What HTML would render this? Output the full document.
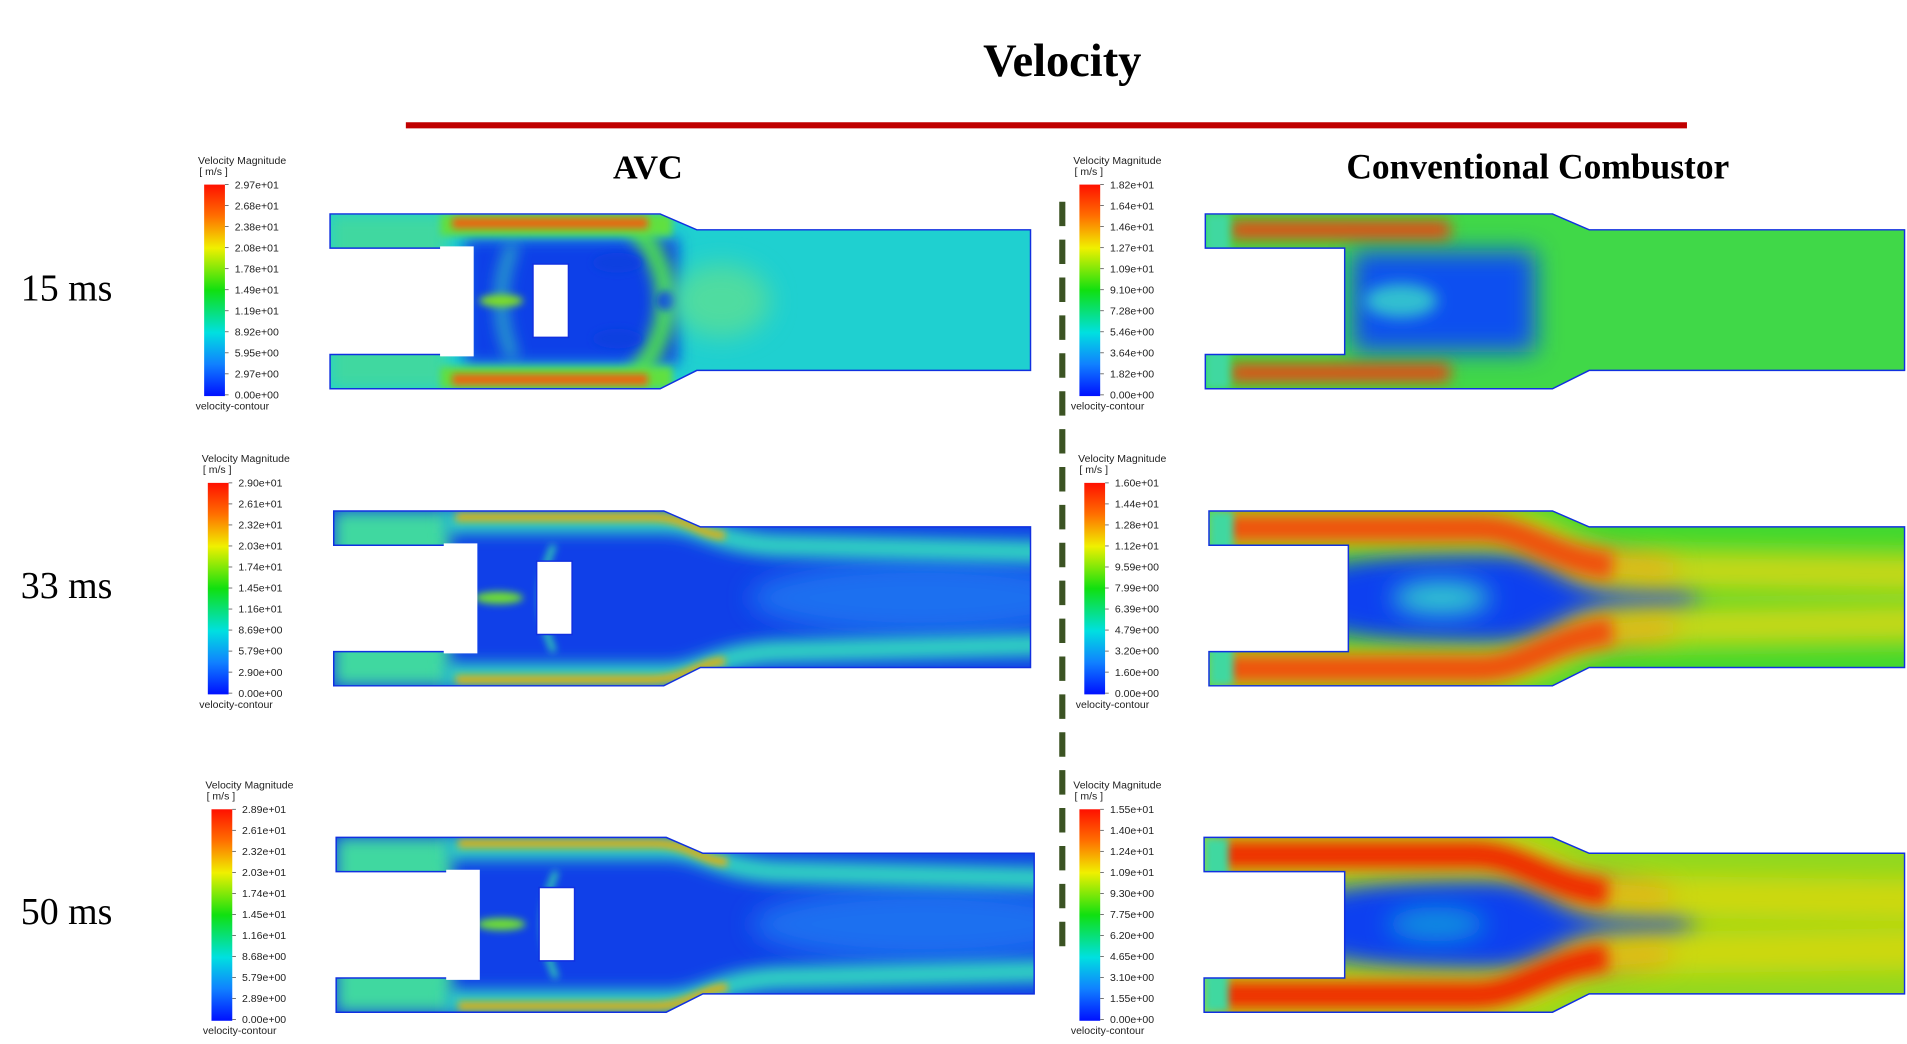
<!DOCTYPE html>
<html><head><meta charset="utf-8">
<style>
html,body{margin:0;padding:0;background:#fff;}
svg{display:block;}
.cb{font-family:"Liberation Sans",sans-serif;font-size:8.6px;fill:#222;}
.ser{font-family:"Liberation Serif",serif;}
</style></head>
<body>
<svg id="s" width="1907" height="1044" viewBox="0 0 1560 854" preserveAspectRatio="none" xmlns="http://www.w3.org/2000/svg">
<defs>
<linearGradient id="jet" x1="0" y1="0" x2="0" y2="1">
<stop offset="0" stop-color="#ff1000"/>
<stop offset="0.15" stop-color="#ff7000"/>
<stop offset="0.3" stop-color="#f0f000"/>
<stop offset="0.5" stop-color="#10e010"/>
<stop offset="0.7" stop-color="#00e0e0"/>
<stop offset="0.85" stop-color="#1080ff"/>
<stop offset="1" stop-color="#0010ff"/>
</linearGradient>
<filter id="b6" filterUnits="userSpaceOnUse" x="-100" y="-100" width="800" height="350"><feGaussianBlur stdDeviation="6"/></filter>
<filter id="b3" filterUnits="userSpaceOnUse" x="-100" y="-100" width="800" height="350"><feGaussianBlur stdDeviation="3"/></filter>
<filter id="b10" filterUnits="userSpaceOnUse" x="-100" y="-100" width="800" height="350"><feGaussianBlur stdDeviation="10"/></filter>
</defs>
<text x="869" y="62" text-anchor="middle" class="ser" font-weight="bold" font-size="38">Velocity</text>
<rect x="332" y="100" width="1048" height="5" fill="#c00000"/>
<text x="530" y="146" text-anchor="middle" class="ser" font-weight="bold" font-size="28">AVC</text>
<text x="1258" y="146" text-anchor="middle" class="ser" font-weight="bold" font-size="29">Conventional Combustor</text>
<text x="17" y="246" class="ser" font-size="31">15 ms</text>
<text x="17" y="489" class="ser" font-size="31">33 ms</text>
<text x="17" y="756" class="ser" font-size="31">50 ms</text>
<line x1="869" y1="165" x2="869" y2="775" stroke="#3b5323" stroke-width="5" stroke-dasharray="20,11"/>
<g id="g"></g>
</svg>
<script>
var g=document.getElementById('g');var H='';var id=0;
function cb(x,y,vals){
 var s='<text class="cb" x="'+(x-5)+'" y="'+(y-17)+'">Velocity Magnitude</text><text class="cb" x="'+(x-4)+'" y="'+(y-8)+'">[ m/s ]</text>';
 s+='<rect x="'+x+'" y="'+y+'" width="17" height="173" fill="url(#jet)"/>';
 for(var i=0;i<11;i++){var yy=y+i*17.2;s+='<line x1="'+(x+17)+'" x2="'+(x+20)+'" y1="'+yy+'" y2="'+yy+'" stroke="#444" stroke-width="0.6"/><text class="cb" x="'+(x+25)+'" y="'+(yy+3)+'">'+vals[i]+'</text>';}
 s+='<text class="cb" x="'+(x-7)+'" y="'+(y+184)+'">velocity-contour</text>';return s;}
H+=cb(167,151,['2.97e+01','2.68e+01','2.38e+01','2.08e+01','1.78e+01','1.49e+01','1.19e+01','8.92e+00','5.95e+00','2.97e+00','0.00e+00']);
H+=cb(170,395,['2.90e+01','2.61e+01','2.32e+01','2.03e+01','1.74e+01','1.45e+01','1.16e+01','8.69e+00','5.79e+00','2.90e+00','0.00e+00']);
H+=cb(173,662,['2.89e+01','2.61e+01','2.32e+01','2.03e+01','1.74e+01','1.45e+01','1.16e+01','8.68e+00','5.79e+00','2.89e+00','0.00e+00']);
H+=cb(883,151,['1.82e+01','1.64e+01','1.46e+01','1.27e+01','1.09e+01','9.10e+00','7.28e+00','5.46e+00','3.64e+00','1.82e+00','0.00e+00']);
H+=cb(887,395,['1.60e+01','1.44e+01','1.28e+01','1.12e+01','9.59e+00','7.99e+00','6.39e+00','4.79e+00','3.20e+00','1.60e+00','0.00e+00']);
H+=cb(883,662,['1.55e+01','1.40e+01','1.24e+01','1.09e+01','9.30e+00','7.75e+00','6.20e+00','4.65e+00','3.10e+00','1.55e+00','0.00e+00']);
function dom(x0,y0,w,cutx,tx,body,avc){
 id++;var p='M0,0 L'+tx+',0 L'+(tx+30)+',13 L'+w+',13 L'+w+',128 L'+(tx+30)+',128 L'+tx+',143 L0,143 L0,115 L'+cutx+',115 L'+cutx+',28 L0,28 Z';
 if(avc)p+=' M166,41 L166,101 L195,101 L195,41 Z';
 var s='<g transform="translate('+x0+','+y0+')"><clipPath id="c'+id+'"><path fill-rule="evenodd" d="'+p+'"/></clipPath><g clip-path="url(#c'+id+')">'+body+'</g>';
 s+='<path d="'+p+'" fill="none" stroke="#1030e0" stroke-width="1.2" fill-rule="evenodd"/>';
 if(avc)s+='<path d="M90,28 L116,28 L116,115 L90,115" fill="none" stroke="#fff" stroke-width="3"/>';
 return s+'</g>';}
var avc15='<rect x="-10" y="-10" width="600" height="170" fill="#1fd0d0"/>'+
'<rect x="0" y="0" width="95" height="143" fill="#40d8a0" filter="url(#b6)"/>'+
'<rect x="110" y="20" width="175" height="103" fill="#1040e8" filter="url(#b6)"/>'+
'<path d="M250,10 Q300,71 250,133" stroke="#50e050" stroke-width="16" fill="none" filter="url(#b6)"/>'+
'<path d="M150,25 Q130,71 150,118" stroke="#30c0c0" stroke-width="8" fill="none" filter="url(#b6)"/>'+
'<rect x="90" y="0" width="190" height="18" fill="#60e040" filter="url(#b3)"/>'+
'<rect x="90" y="125" width="190" height="18" fill="#60e040" filter="url(#b3)"/>'+
'<rect x="100" y="3" width="160" height="9" fill="#f06010" filter="url(#b3)"/>'+
'<rect x="100" y="131" width="160" height="9" fill="#f06010" filter="url(#b3)"/>'+
'<ellipse cx="140" cy="71" rx="18" ry="5" fill="#80e020" filter="url(#b3)"/>'+
'<circle cx="275" cy="71" r="8" fill="#1040e0" filter="url(#b3)"/>'+
'<ellipse cx="235" cy="40" rx="20" ry="8" fill="#1040e0" filter="url(#b3)"/><ellipse cx="235" cy="102" rx="20" ry="8" fill="#1040e0" filter="url(#b3)"/>'+
'<ellipse cx="320" cy="71" rx="40" ry="30" fill="#50dca0" filter="url(#b10)"/>';
var avcL='<rect x="-10" y="-10" width="600" height="170" fill="#1040e8"/>'+
'<rect x="0" y="0" width="95" height="143" fill="#40d8a0" filter="url(#b6)"/>'+
'<ellipse cx="480" cy="71" rx="140" ry="30" fill="#1a70f0" filter="url(#b10)"/>'+
'<path d="M90,9 L270,9 C300,9 310,25 360,28 L600,34" stroke="#30d8c0" stroke-width="18" fill="none" filter="url(#b6)"/>'+
'<path d="M90,134 L270,134 C300,134 310,118 360,115 L600,109" stroke="#30d8c0" stroke-width="18" fill="none" filter="url(#b6)"/>'+
'<path d="M100,5 L260,5 C290,5 300,20 320,20" stroke="#e0b010" stroke-width="7" fill="none" filter="url(#b3)"/>'+
'<path d="M100,138 L260,138 C290,138 300,123 320,123" stroke="#e0b010" stroke-width="7" fill="none" filter="url(#b3)"/>'+
'<path d="M180,28 Q160,71 180,115" stroke="#30d0b0" stroke-width="5" fill="none" filter="url(#b3)"/>'+
'<ellipse cx="135" cy="71" rx="20" ry="5" fill="#70e030" filter="url(#b3)"/>';
function conv(jet,outc,corc,band){return '<rect x="-10" y="-10" width="600" height="170" fill="'+outc+'"/>'+
'<ellipse cx="230" cy="71" rx="170" ry="42" fill="#1040f0" filter="url(#b10)"/>'+
'<ellipse cx="190" cy="71" rx="40" ry="14" fill="'+corc+'" filter="url(#b10)"/>'+
'<path d="M0,14 L230,14 C280,14 290,45 340,48 L600,52" stroke="'+band+'" stroke-width="34" fill="none" filter="url(#b10)"/>'+
'<path d="M0,129 L230,129 C280,129 290,98 340,95 L600,91" stroke="'+band+'" stroke-width="34" fill="none" filter="url(#b10)"/>'+
'<path d="M300,42 L380,48" stroke="#e8b010" stroke-width="16" fill="none" filter="url(#b10)"/>'+
'<path d="M300,101 L380,95" stroke="#e8b010" stroke-width="16" fill="none" filter="url(#b10)"/>'+
'<path d="M10,14 L220,14 C260,14 280,40 330,45" stroke="'+jet+'" stroke-width="22" fill="none" filter="url(#b6)"/>'+
'<path d="M10,129 L220,129 C260,129 280,103 330,98" stroke="'+jet+'" stroke-width="22" fill="none" filter="url(#b6)"/>'+
'<rect x="0" y="0" width="20" height="143" fill="#40d8a0" filter="url(#b3)"/>';}
var conv15='<rect x="-10" y="-10" width="600" height="170" fill="#40d848"/>'+
'<rect x="120" y="30" width="150" height="83" fill="#1050f0" filter="url(#b10)"/>'+
'<ellipse cx="160" cy="71" rx="30" ry="14" fill="#30c0d0" filter="url(#b6)"/>'+
'<rect x="20" y="6" width="180" height="14" fill="#f04010" filter="url(#b6)"/>'+
'<rect x="20" y="123" width="180" height="14" fill="#f04010" filter="url(#b6)"/>'+
'<rect x="0" y="0" width="20" height="143" fill="#40d8a0" filter="url(#b3)"/>';
H+=dom(270,175,573,116,270,avc15,true);
H+=dom(273,418,570,116,270,avcL,true);
H+=dom(275,685,571,116,270,avcL,true);
H+=dom(986,175,572,114,284,conv15,false);
H+=dom(989,418,569,114,281,conv('#f05010','#40d830','#30c8d0','#c8d818'),false);
H+=dom(985,685,573,115,285,conv('#f02a00','#90d820','#1090e0','#d0d810'),false);
g.innerHTML=H;
</script>
</body></html>
